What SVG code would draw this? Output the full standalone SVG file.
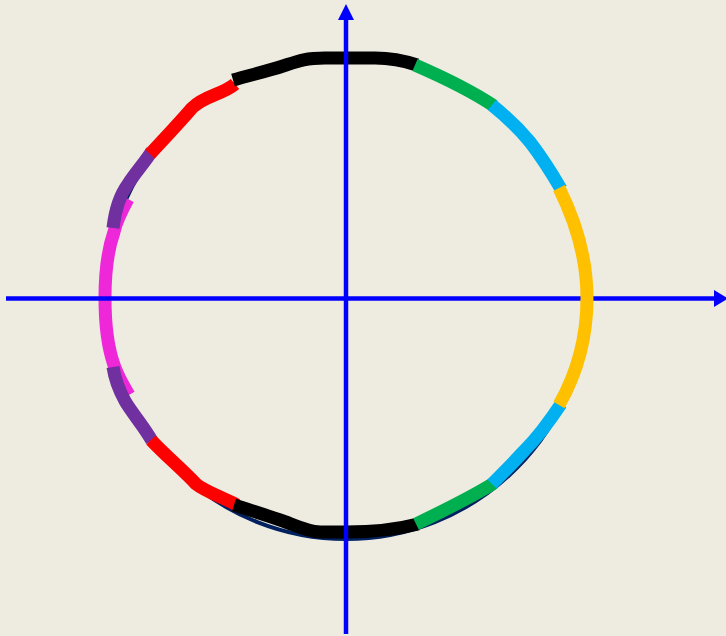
<svg xmlns="http://www.w3.org/2000/svg" width="726" height="636" viewBox="0 0 726 636">
  <style>
    .seg { fill: none; stroke-width: 13; stroke-linecap: butt; stroke-linejoin: round; }
    .axis { stroke: #0000FF; stroke-width: 4.5; fill: none; }
    .head { fill: #0000FF; }
  </style>
  <rect width="726" height="636" fill="#EEECE1"/>
  <g id="base-circle">
    <circle cx="346" cy="298" r="241" fill="none" stroke="#002060" stroke-width="4"/>
  </g>
  <g id="segments">
    <g id="magenta"><path class="seg" stroke="#EE28D8" d="M 128 199 C 121 212 116 222 114 232 C 107 252 105 275 105 298 C 105 322 107 345 114 365 C 118 377 123 385 129 395" stroke-width="12"/></g>
    <g id="purple-top"><path class="seg" stroke="#7030A0" d="M 113 228 C 115 210 120 195 128 184 C 136 172 145 162 152 151"/></g>
    <g id="purple-bottom"><path class="seg" stroke="#7030A0" d="M 152 441 C 145 428 132 413 125 401 C 119 390 115 380 113 367"/></g>
    <g id="red-top"><path class="seg" stroke="#FF0000" d="M 150 154 C 165 138 180 122 192 108 C 205 95 222 95 235 84"/></g>
    <g id="red-bottom"><path class="seg" stroke="#FF0000" d="M 237 505 C 222 497 206 492 196 484 C 183 470 165 455 151 440"/></g>
    <g id="black-top"><path class="seg" stroke="#000000" d="M 233 80 C 250 75 268 71 283 66 C 298 61 305 58 325 58 L 375 58 C 393 58 405 61 417 65"/></g>
    <g id="black-bottom"><path class="seg" stroke="#000000" d="M 418 524 C 395 530 375 532 346 532 L 320 532 C 305 531 295 525 283 521 C 266 515 250 510 234 505"/></g>
    <g id="green-top"><path class="seg" stroke="#00B050" d="M 415 65 C 445 78 470 90 494 106"/></g>
    <g id="green-bottom"><path class="seg" stroke="#00B050" d="M 494 483 C 470 498 441 512 416 524"/></g>
    <g id="cyan-top"><path class="seg" stroke="#00B0F0" d="M 492 105 C 508 118 520 130 530 142 C 540 155 550 170 561 189" stroke-width="12"/></g>
    <g id="cyan-bottom"><path class="seg" stroke="#00B0F0" d="M 561 404 C 549 422 536 439 524 451 C 512 464 503 473 492 484" stroke-width="12"/></g>
  </g>
  <g id="axes">
    <line class="axis" x1="6" y1="298.5" x2="716" y2="298.5"/>
    <polygon class="head" points="728,298.5 714,290 714,307"/>
    <line class="axis" x1="346" y1="634" x2="346" y2="18"/>
    <polygon class="head" points="346,4 338,20 354,20"/>
  </g>
  <g id="yellow"><path class="seg" stroke="#FFC000" d="M 559 188 C 578 226 587 260 587 298 C 587 336 579 370 559 405"/></g>
</svg>
